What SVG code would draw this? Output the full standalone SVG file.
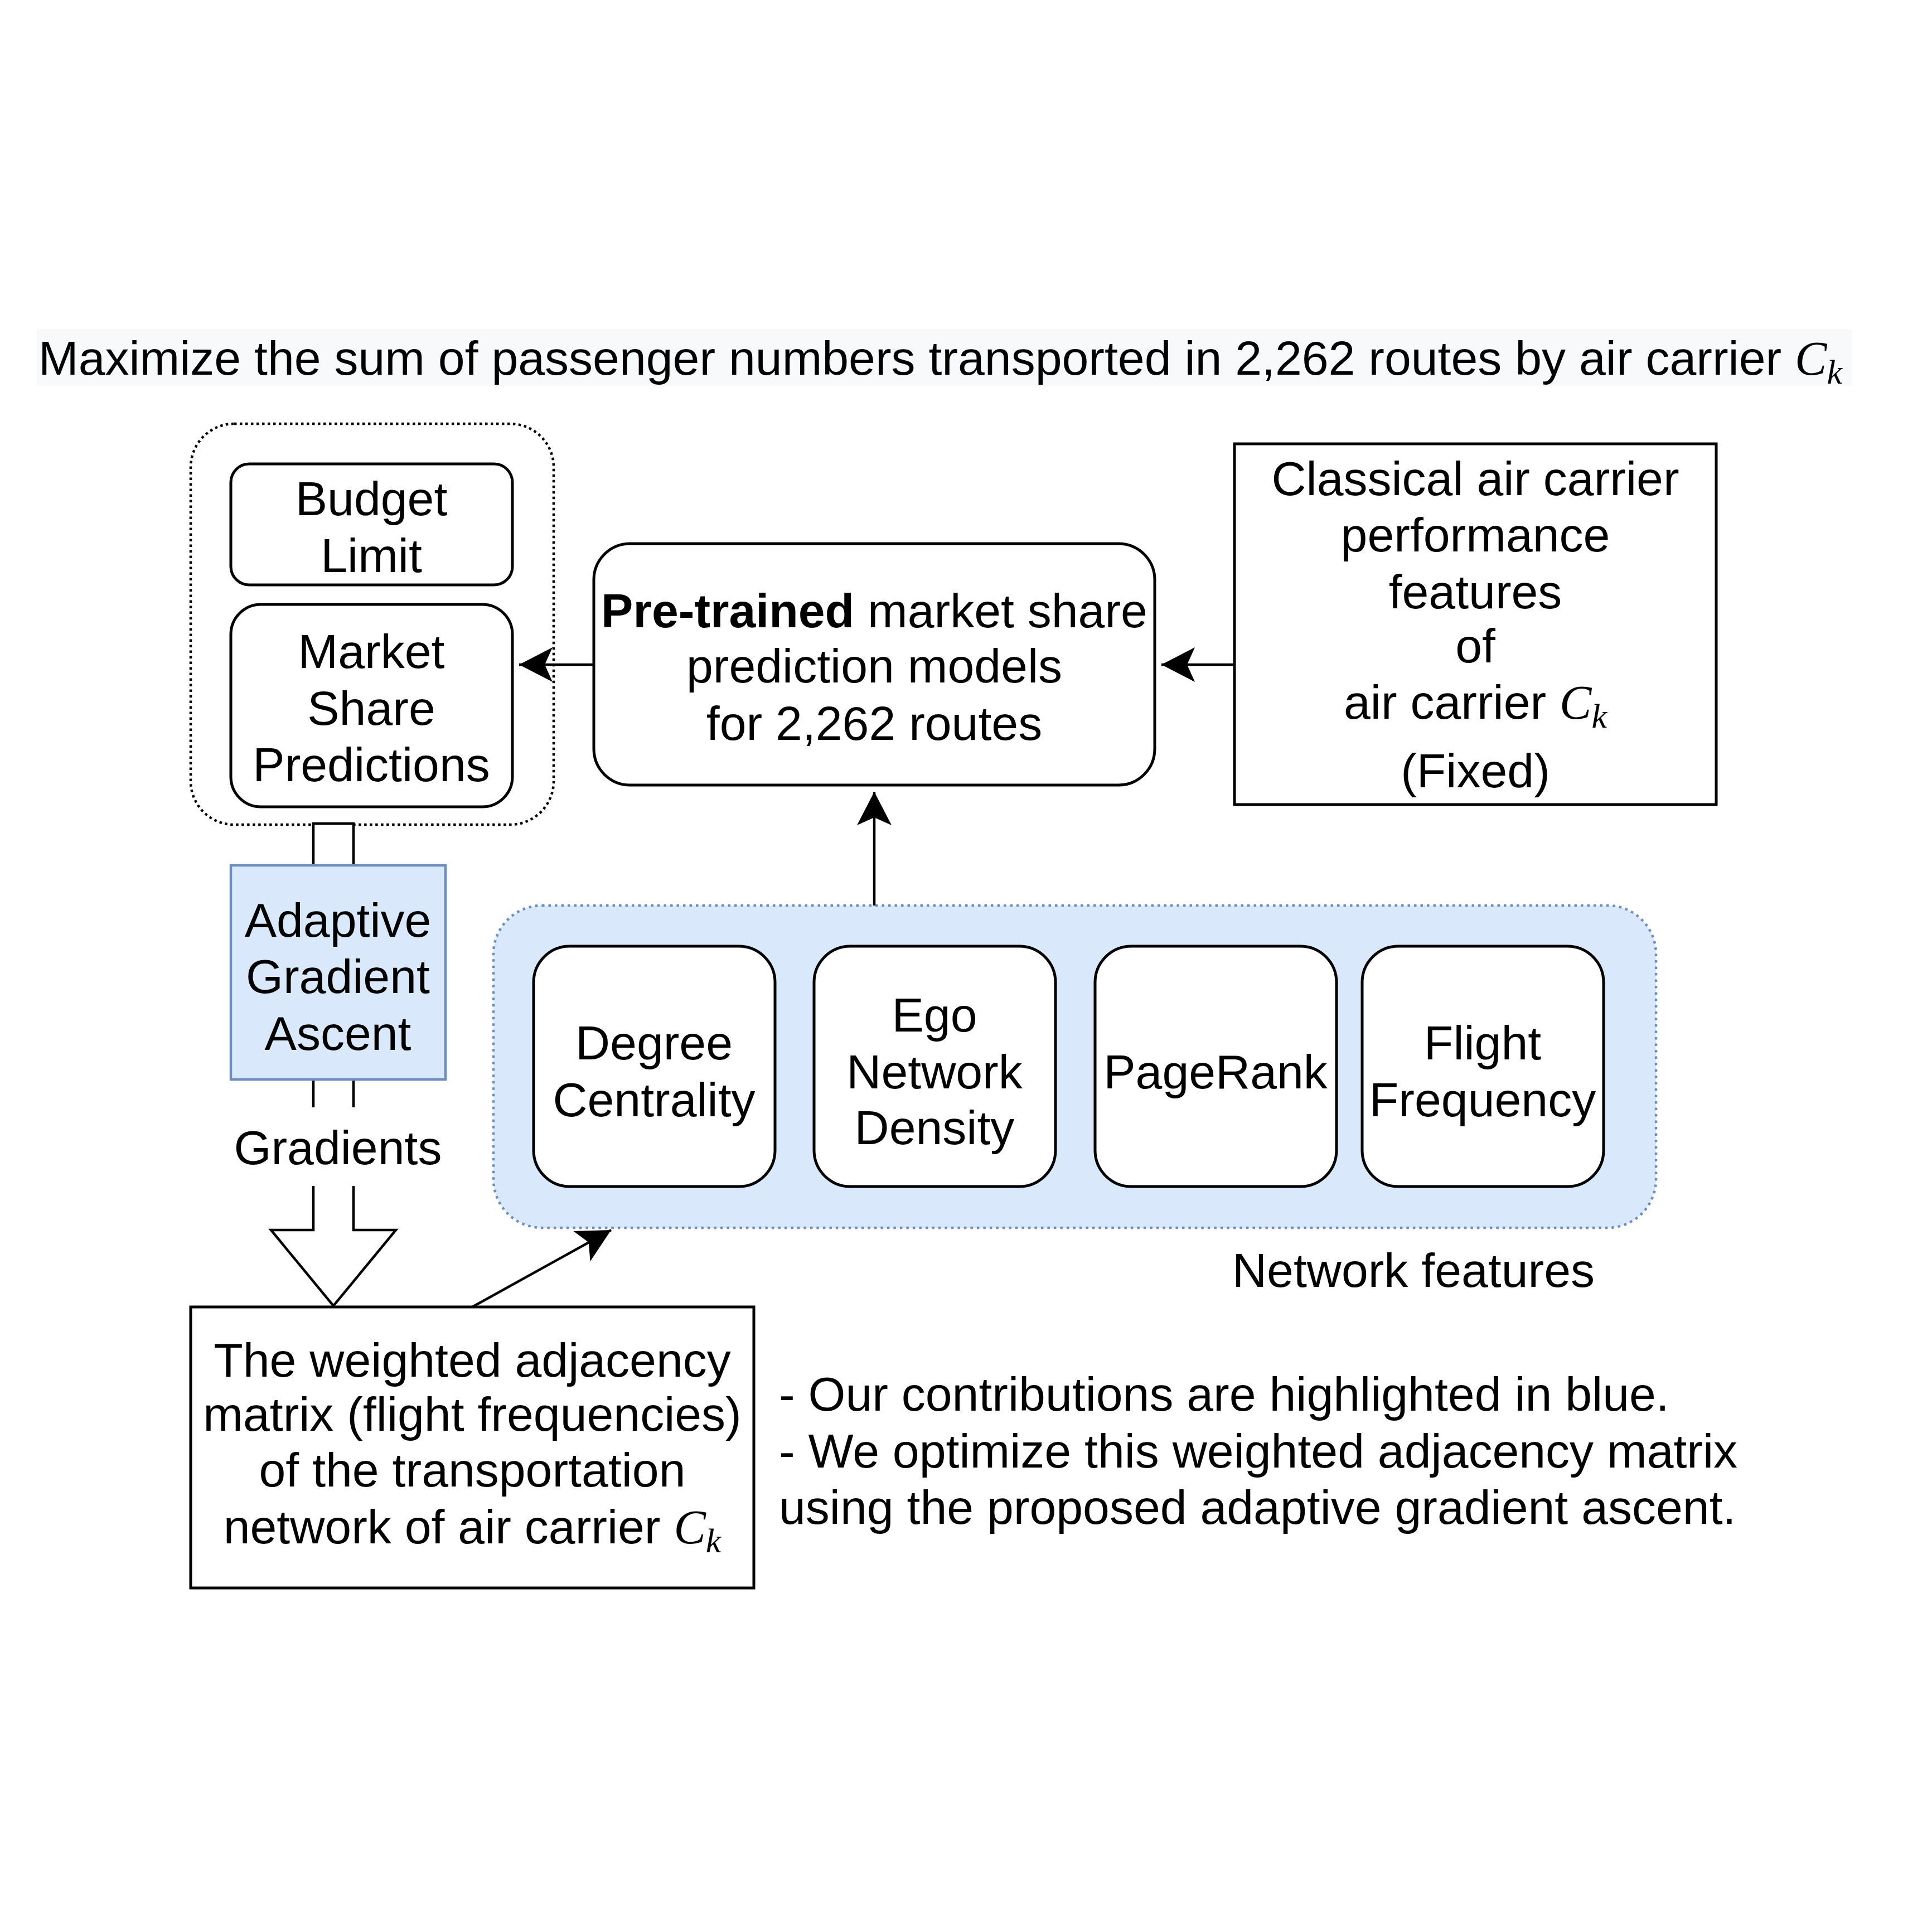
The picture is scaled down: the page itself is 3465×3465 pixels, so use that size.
<svg xmlns="http://www.w3.org/2000/svg" width="3465" height="3465" viewBox="0 0 3465 3465">
<defs>
<style>
text{font-family:"Liberation Sans",Arial,Helvetica,sans-serif;font-size:86px;fill:#000}
.c{text-anchor:middle}
.m{font-family:"Liberation Serif","Times New Roman",serif;font-style:italic}
.box{fill:#fff;stroke:#000;stroke-width:5}
.blue{fill:#dae8fc;stroke:#6c8ebf;stroke-width:4.5}
.edge{fill:none;stroke:#000;stroke-width:4.5}
</style>
<marker id="arr" markerUnits="userSpaceOnUse" markerWidth="70" markerHeight="70" viewBox="-65 -35 70 70" refX="0" refY="0" orient="auto">
<path d="M0,0 L-60,-31 L-46,0 L-60,31 Z" fill="#000"/>
</marker>
</defs>
<rect width="3465" height="3465" fill="#fff"/>

<g id="title">
<rect x="66" y="590" width="3255" height="102" fill="#f8f9fa"/>
<text x="69" y="672">Maximize the sum of passenger numbers transported in 2,262 routes by air carrier <tspan class="m">C</tspan><tspan class="m" font-size="62" dy="16">k</tspan></text>
</g>

<g id="network-features-group">
<rect x="885" y="1624" width="2085" height="578" rx="87" ry="87" fill="#dae8fc" stroke="#6c8ebf" stroke-width="4.5" stroke-dasharray="4.5 7"/>
<text class="c" x="2535" y="2308">Network features</text>
</g>

<g id="constraints-group">
<rect x="342" y="760" width="651" height="719" rx="78" ry="78" fill="none" stroke="#000" stroke-width="4.5" stroke-dasharray="4.5 5.5"/>
</g>

<g id="connectors">
<path d="M562,1477 L634,1477 L634,2206 L710,2206 L598,2342 L486,2206 L562,2206 Z" fill="#fff" stroke="#000" stroke-width="4.5" stroke-linejoin="miter"/>
<rect x="412" y="1986" width="390" height="141" fill="#fff"/>
<text class="c" x="606" y="2088">Gradients</text>
<path class="edge" d="M1063,1192 L931,1192" marker-end="url(#arr)"/>
<path class="edge" d="M2214,1192 L2083,1192" marker-end="url(#arr)"/>
<path class="edge" d="M1568,1624 L1568,1420" marker-end="url(#arr)"/>
<path class="edge" d="M847,2344 L1096,2206" marker-end="url(#arr)"/>
</g>

<g id="budget-limit">
<rect class="box" x="414" y="832" width="505" height="217" rx="33" ry="33"/>
<text class="c" x="666" y="924">Budget</text>
<text class="c" x="666" y="1026">Limit</text>
</g>

<g id="market-share-predictions">
<rect class="box" x="414" y="1084" width="505" height="363" rx="54" ry="54"/>
<text class="c" x="666" y="1198">Market</text>
<text class="c" x="666" y="1300">Share</text>
<text class="c" x="666" y="1401">Predictions</text>
</g>

<g id="pretrained-models">
<rect class="box" x="1065" y="975" width="1006" height="433" rx="65" ry="65"/>
<text class="c" x="1568" y="1125"><tspan font-weight="bold">Pre-trained</tspan> market share</text>
<text class="c" x="1568" y="1224">prediction models</text>
<text class="c" x="1568" y="1327">for 2,262 routes</text>
</g>

<g id="classical-features">
<rect class="box" x="2214" y="796" width="864" height="647"/>
<text class="c" x="2646" y="888">Classical air carrier</text>
<text class="c" x="2646" y="989">performance</text>
<text class="c" x="2646" y="1091">features</text>
<text class="c" x="2646" y="1188">of</text>
<text class="c" x="2646" y="1289">air carrier <tspan class="m">C</tspan><tspan class="m" font-size="62" dy="16">k</tspan></text>
<text class="c" x="2646" y="1412">(Fixed)</text>
</g>

<g id="adaptive-gradient-ascent">
<rect class="blue" x="414" y="1552" width="385" height="384"/>
<text class="c" x="606" y="1680">Adaptive</text>
<text class="c" x="606" y="1781">Gradient</text>
<text class="c" x="606" y="1883">Ascent</text>
</g>

<g id="degree-centrality">
<rect class="box" x="957" y="1697" width="433" height="431" rx="65" ry="65"/>
<text class="c" x="1173" y="1900">Degree</text>
<text class="c" x="1173" y="2002">Centrality</text>
</g>

<g id="ego-network-density">
<rect class="box" x="1460" y="1697" width="433" height="431" rx="65" ry="65"/>
<text class="c" x="1676" y="1850">Ego</text>
<text class="c" x="1676" y="1952">Network</text>
<text class="c" x="1676" y="2052">Density</text>
</g>

<g id="pagerank">
<rect class="box" x="1964" y="1697" width="433" height="431" rx="65" ry="65"/>
<text class="c" x="2180" y="1952">PageRank</text>
</g>

<g id="flight-frequency">
<rect class="box" x="2443" y="1697" width="433" height="431" rx="65" ry="65"/>
<text class="c" x="2659" y="1900">Flight</text>
<text class="c" x="2659" y="2002">Frequency</text>
</g>

<g id="adjacency-matrix">
<rect class="box" x="342" y="2344" width="1010" height="504"/>
<text class="c" x="847" y="2469">The weighted adjacency</text>
<text class="c" x="847" y="2566">matrix (flight frequencies)</text>
<text class="c" x="847" y="2666">of the transportation</text>
<text class="c" x="847" y="2768">network of air carrier <tspan class="m">C</tspan><tspan class="m" font-size="62" dy="16">k</tspan></text>
</g>

<g id="notes">
<text x="1397" y="2530">- Our contributions are highlighted in blue.</text>
<text x="1397" y="2632">- We optimize this weighted adjacency matrix</text>
<text x="1397" y="2733">using the proposed adaptive gradient ascent.</text>
</g>
</svg>
